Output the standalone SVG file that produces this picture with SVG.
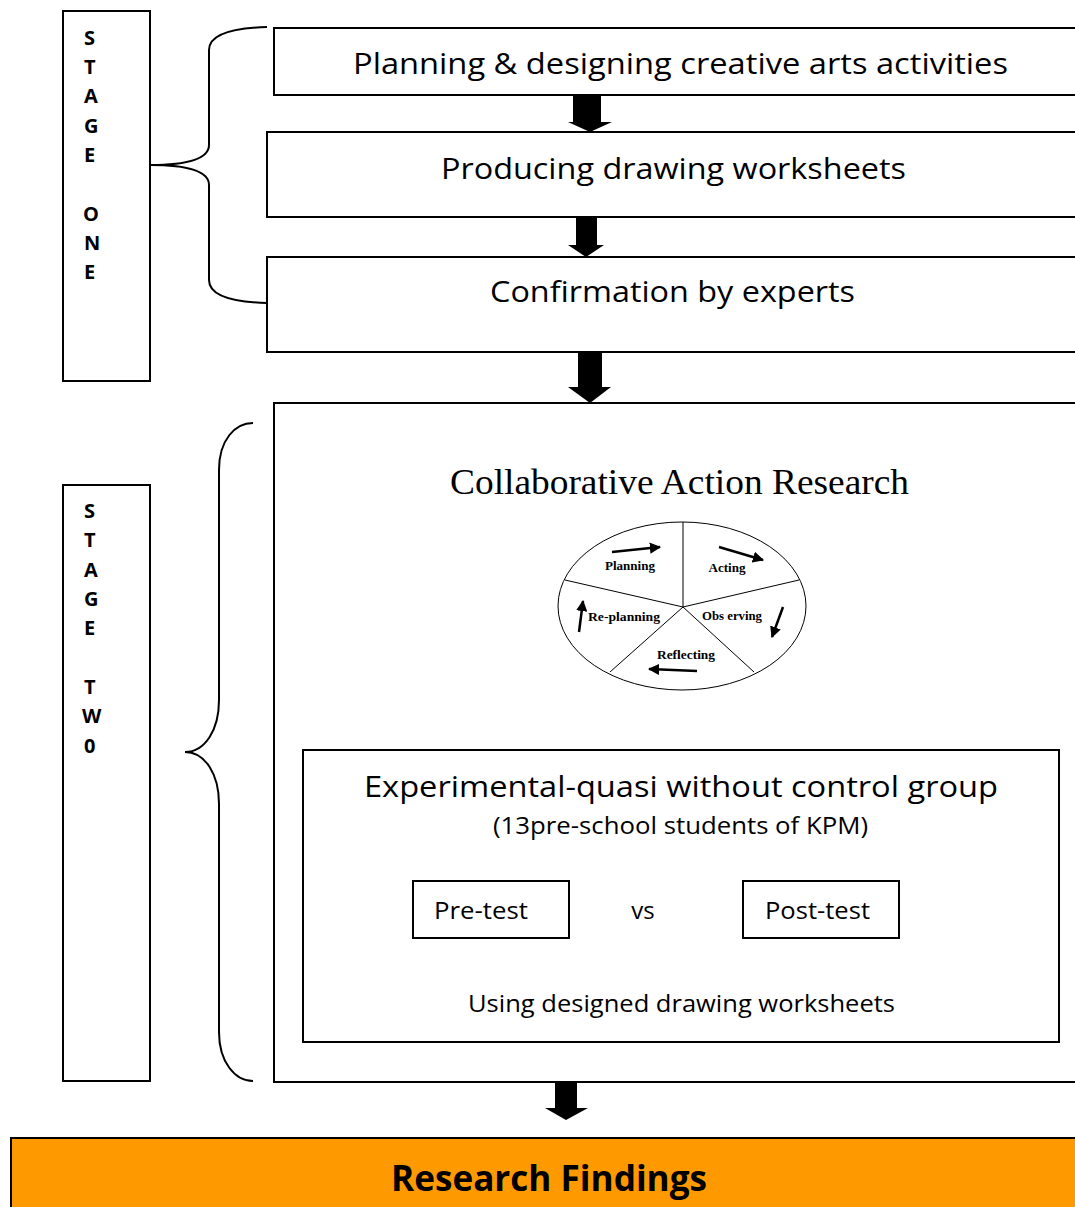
<svg xmlns="http://www.w3.org/2000/svg" width="1075" height="1207" viewBox="0 0 1075 1207">
<style>
.box{fill:#fff;stroke:#000;stroke-width:2}
.thin{fill:none;stroke:#000;stroke-width:1}
.brace{fill:none;stroke:#000;stroke-width:2}
.t{font-family:"Open Sans","Liberation Sans",sans-serif;fill:#000}
.st{font-family:"Open Sans","Liberation Sans",sans-serif;font-weight:bold;font-size:20px;fill:#000}
.pie{font-family:"Liberation Serif",serif;font-size:12px;font-weight:bold;fill:#000}
.blk{fill:#000}
.pa{stroke:#000;stroke-width:2.5;fill:none}
</style>
<defs>
<marker id="ah" viewBox="0 0 10 10" refX="9" refY="5" markerWidth="4.5" markerHeight="4.5" orient="auto" markerUnits="strokeWidth">
<path d="M0,0 L10,5 L0,10 z" fill="#000"/>
</marker>
</defs>

<g id="stage-one">
<rect class="box" x="63" y="11" width="87" height="370"/>
<text class="st" x="84" y="45">S</text>
<text class="st" x="84" y="74">T</text>
<text class="st" x="84" y="103">A</text>
<text class="st" x="84" y="133">G</text>
<text class="st" x="84" y="162">E</text>
<text class="st" x="83" y="221">O</text>
<text class="st" x="84" y="250">N</text>
<text class="st" x="84" y="279">E</text>
</g>

<g id="stage-two">
<rect class="box" x="63" y="485" width="87" height="596"/>
<text class="st" x="84" y="518">S</text>
<text class="st" x="84" y="547">T</text>
<text class="st" x="84" y="577">A</text>
<text class="st" x="84" y="606">G</text>
<text class="st" x="84" y="635">E</text>
<text class="st" x="84" y="694">T</text>
<text class="st" x="82" y="723">W</text>
<text class="st" x="84" y="753">0</text>
</g>

<g id="brace-one">
<path class="brace" d="M267,27 C230,28 209,35 209,50 L209,145 C209,158 190,165 150,165 C190,165 209,172 209,185 L209,280 C209,295 230,302 267,303"/>
</g>
<g id="brace-two">
<path class="brace" d="M253,423 C235,423 219,440 219,470 L219,700 C219,730 205,752 185,752 C205,752 219,774 219,804 L219,1032 C219,1062 235,1081 253,1081"/>
</g>

<g id="planning">
<rect class="box" x="274" y="28" width="810" height="67"/>
<text class="t" x="680.5" y="74" font-size="30" text-anchor="middle" textLength="655" lengthAdjust="spacingAndGlyphs">Planning &amp; designing creative arts activities</text>
</g>

<g id="producing">
<rect class="box" x="267" y="132" width="817" height="85"/>
<text class="t" x="673.5" y="179" font-size="30" text-anchor="middle" textLength="465" lengthAdjust="spacingAndGlyphs">Producing drawing worksheets</text>
</g>

<g id="confirmation">
<rect class="box" x="267" y="257" width="817" height="95"/>
<text class="t" x="672.5" y="302" font-size="30" text-anchor="middle" textLength="365" lengthAdjust="spacingAndGlyphs">Confirmation by experts</text>
</g>

<g id="stage-two-content">
<rect class="box" x="274" y="403" width="810" height="679"/>
<text x="679.5" y="494" font-family="Liberation Serif, serif" font-size="35" text-anchor="middle" textLength="459" lengthAdjust="spacingAndGlyphs">Collaborative Action Research</text>
</g>

<g id="cycle">
<ellipse class="thin" cx="682" cy="606" rx="124" ry="84"/>
<g stroke="#000" stroke-width="1" fill="none">
<line x1="683" y1="607" x2="683" y2="522"/>
<line x1="683" y1="607" x2="565" y2="580"/>
<line x1="683" y1="607" x2="799" y2="580"/>
<line x1="683" y1="607" x2="610" y2="672"/>
<line x1="683" y1="607" x2="754" y2="672"/>
</g>
<text class="pie" x="630" y="570" text-anchor="middle" textLength="50" lengthAdjust="spacingAndGlyphs">Planning</text>
<text class="pie" x="727" y="572" text-anchor="middle" textLength="37" lengthAdjust="spacingAndGlyphs">Acting</text>
<text class="pie" x="732" y="620" text-anchor="middle" textLength="60" lengthAdjust="spacingAndGlyphs">Obs erving</text>
<text class="pie" x="624" y="621" text-anchor="middle" textLength="72" lengthAdjust="spacingAndGlyphs">Re-planning</text>
<text class="pie" x="686" y="659" text-anchor="middle" textLength="58" lengthAdjust="spacingAndGlyphs">Reflecting</text>
<line class="pa" x1="612" y1="552" x2="660" y2="547" marker-end="url(#ah)"/>
<line class="pa" x1="719" y1="547" x2="763" y2="560" marker-end="url(#ah)"/>
<line class="pa" x1="783" y1="607" x2="772" y2="637" marker-end="url(#ah)"/>
<line class="pa" x1="697" y1="671" x2="649" y2="669" marker-end="url(#ah)"/>
<line class="pa" x1="579" y1="632" x2="583" y2="601" marker-end="url(#ah)"/>
</g>

<g id="experimental">
<rect class="box" x="303" y="750" width="756" height="292"/>
<text class="t" x="681" y="797" font-size="30" text-anchor="middle" textLength="634" lengthAdjust="spacingAndGlyphs">Experimental-quasi without control group</text>
<text class="t" x="680.5" y="834" font-size="24" text-anchor="middle" textLength="375" lengthAdjust="spacingAndGlyphs">(13pre-school students of KPM)</text>
<text class="t" x="643" y="919" font-size="24" text-anchor="middle">vs</text>
<text class="t" x="681.5" y="1012" font-size="24" text-anchor="middle" textLength="427" lengthAdjust="spacingAndGlyphs">Using designed drawing worksheets</text>
</g>

<g id="pre-test">
<rect class="box" x="413" y="881" width="156" height="57"/>
<text class="t" x="434" y="919" font-size="24" textLength="94" lengthAdjust="spacingAndGlyphs">Pre-test</text>
</g>

<g id="post-test">
<rect class="box" x="743" y="881" width="156" height="57"/>
<text class="t" x="765" y="919" font-size="24" textLength="105" lengthAdjust="spacingAndGlyphs">Post-test</text>
</g>

<g id="findings">
<rect x="11" y="1138" width="1080" height="80" fill="#FF9900" stroke="#000" stroke-width="2"/>
<text class="t" x="549" y="1191" font-size="35" font-weight="bold" text-anchor="middle" textLength="316" lengthAdjust="spacingAndGlyphs">Research Findings</text>
</g>

<g id="connectors">
<polygon class="blk" points="573,95 601,95 601,122 612,122 590,132 568,122 573,122"/>
<polygon class="blk" points="576,217 597,217 597,245 604,245 586,257 568,245 576,245"/>
<polygon class="blk" points="578,352 602,352 602,387 611,387 590,403 568,387 578,387"/>
<polygon class="blk" points="555,1082 577,1082 577,1108 588,1108 566,1120 545,1108 555,1108"/>
</g>
</svg>
